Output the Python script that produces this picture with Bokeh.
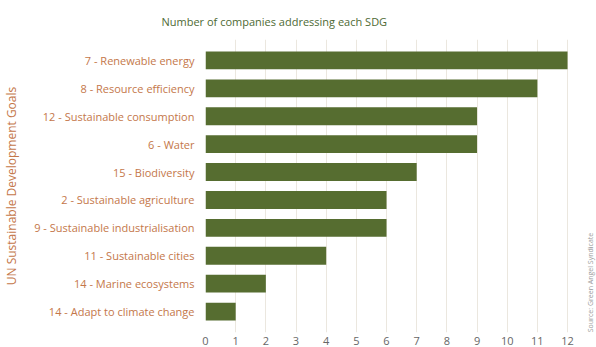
from math import pi
from bokeh.plotting import figure
from bokeh.models import FactorRange, Range1d, FixedTicker, Title, Label
from bokeh.embed import file_html
from bokeh.resources import INLINE

goals = [
    "7 - Renewable energy",
    "8 - Resource efficiency",
    "12 - Sustainable consumption",
    "6 - Water",
    "15 - Biodiversity",
    "2 - Sustainable agriculture",
    "9 - Sustainable industrialisation",
    "11 - Sustainable cities",
    "14 - Marine ecosystems",
    "14 - Adapt to climate change",
]
companies = [12, 11, 9, 9, 7, 6, 6, 4, 2, 1]
x_ticks = list(range(0, 13))

title_text = "Number of companies addressing each SDG"
y_title = "UN Sustainable Development Goals"
source_text = "Source: Green Angel Syndicate"

FONT = "Open Sans"
ORANGE = "#c4774a"
GREEN = "#566d30"

factors = list(reversed(goals))
p = figure(
    width=596, height=347,
    y_range=FactorRange(factors=factors, range_padding=0.25, range_padding_units="absolute"),
    x_range=Range1d(0, 12.96),
    output_backend="svg", toolbar_location=None,
    min_border_left=205, min_border_right=0, min_border_top=0, min_border_bottom=0,
)
p.outline_line_color = None
p.background_fill_color = "white"
p.border_fill_color = "white"

# title
p.title = Title(text=title_text, align="left", offset=-44, standoff=22,
                vertical_align="bottom", text_font=FONT, text_font_size="11px",
                text_font_style="normal", text_color="#4e6a34")

p.hbar(y=goals, right=companies, left=0, height=0.64, color=GREEN, line_color=None)

p.ygrid.grid_line_color = None
p.xgrid.grid_line_color = "#ebe7df"
p.xgrid.grid_line_width = 1
p.xaxis.ticker = FixedTicker(ticks=x_ticks)
p.xaxis.axis_line_color = None
p.xaxis.major_tick_line_color = None
p.xaxis.minor_tick_line_color = None
p.xaxis.major_tick_out = 0
p.xaxis.major_label_standoff = 4
p.xaxis.major_label_text_font = FONT
p.xaxis.major_label_text_font_size = "11px"
p.xaxis.major_label_text_color = "#666666"

p.yaxis.axis_line_color = None
p.yaxis.major_tick_line_color = None
p.yaxis.major_tick_out = 0
p.yaxis.major_label_standoff = 11
p.yaxis.major_label_text_font = FONT
p.yaxis.major_label_text_font_size = "11px"
p.yaxis.major_label_text_color = ORANGE
p.yaxis.axis_label = y_title
p.yaxis.axis_label_standoff = 11
p.yaxis.axis_label_text_font = FONT
p.yaxis.axis_label_text_font_style = "normal"
p.yaxis.axis_label_text_font_size = "12px"
p.yaxis.axis_label_text_color = ORANGE

# source note (frame-relative screen position, inside the frame's right margin)
p.add_layout(Label(
    x=385, y=50, x_units="screen", y_units="screen", text=source_text,
    angle=pi / 2, text_align="center", text_baseline="middle", text_font=FONT,
    text_font_size="7px", text_color="#9a9a9a",
))

html = file_html(p, INLINE)
open("out.html", "w").write(html)
